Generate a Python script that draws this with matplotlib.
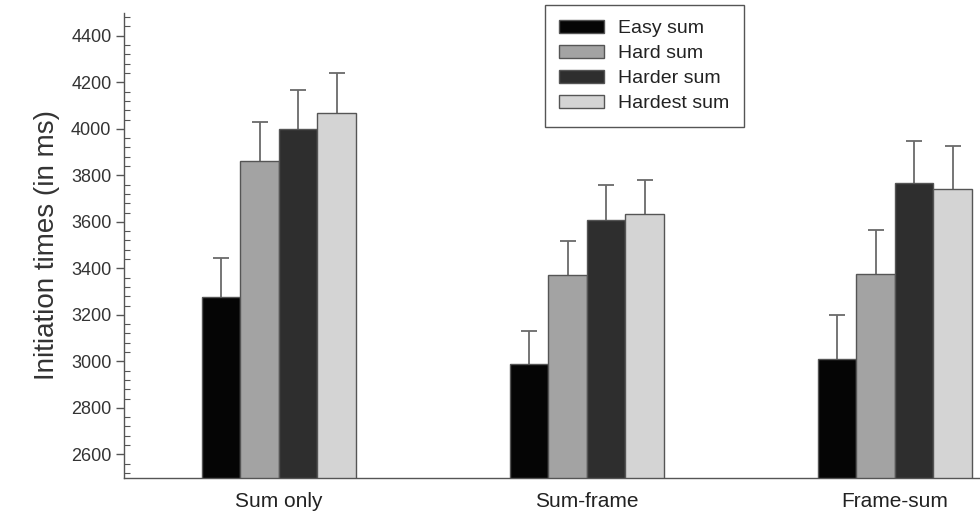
import matplotlib
matplotlib.use("Agg")
import matplotlib.pyplot as plt
import numpy as np
from matplotlib.ticker import MultipleLocator

plt.rcParams["font.family"] = ["Liberation Sans", "DejaVu Sans"]

# data
conditions = ["Sum only", "Sum-frame", "Frame-sum"]
series = ["Easy sum", "Hard sum", "Harder sum", "Hardest sum"]
easy = [3277, 2987, 3012]
hard = [3863, 3370, 3374]
harder = [4000, 3609, 3766]
hardest = [4068, 3635, 3742]
easy_err = [167, 144, 186]
hard_err = [168, 147, 189]
harder_err = [168, 151, 183]
hardest_err = [170, 143, 186]

means = [easy, hard, harder, hardest]
errors = [easy_err, hard_err, harder_err, hardest_err]
colors = ["#050505", "#a3a3a3", "#2e2e2e", "#d4d4d4"]

fig = plt.figure(figsize=(9.8, 5.22), dpi=100)
ax = fig.add_axes([0.1265, 0.085, 0.8735, 0.891])

x = np.arange(len(conditions))
width = 0.125
for i, (vals, errs) in enumerate(zip(means, errors)):
    pos = x + (i - 1.5) * width
    ax.bar(pos, vals, width, color=colors[i], edgecolor="#555555",
           linewidth=1.0, label=series[i], zorder=2)
    eb = ax.errorbar(pos, vals, yerr=[np.zeros(len(errs)), errs], fmt="none",
                     ecolor="#6a6a6a", elinewidth=1.3, capsize=6,
                     capthick=1.3, zorder=1)
    # only the upper cap is shown
    eb[1][0].set_visible(False)

ax.set_xlim(-0.503, 2.276)
ax.set_ylim(2500, 4500)
ax.yaxis.set_minor_locator(MultipleLocator(40))
ax.set_yticks(np.arange(2600, 4401, 200))

ax.set_xticks(x)
ax.set_xticklabels(conditions, fontsize=15, color="#222222")
ax.tick_params(axis="x", length=0, pad=10)
ax.tick_params(axis="y", which="major", direction="out", length=6,
               width=1.0, color="#555555", labelsize=13,
               labelcolor="#333333", pad=3)
ax.tick_params(axis="y", which="minor", direction="in", length=4,
               width=0.8, color="#555555")

for side in ["top", "right"]:
    ax.spines[side].set_visible(False)
for side in ["left", "bottom"]:
    ax.spines[side].set_color("#555555")
    ax.spines[side].set_linewidth(1.0)

ax.set_ylabel("Initiation times (in ms)", fontsize=20, color="#333333",
              labelpad=8)

leg = ax.legend(loc="upper left", bbox_to_anchor=(0.556, 0.99),
                bbox_transform=fig.transFigure, borderaxespad=0,
                fontsize=14, handlelength=2.3, handleheight=0.7,
                handletextpad=0.7, labelspacing=0.38, borderpad=0.75,
                fancybox=False, framealpha=1)
leg.get_frame().set_edgecolor("#555555")
leg.get_frame().set_linewidth(1.0)
for t in leg.get_texts():
    t.set_color("#222222")

fig.savefig("out.png", dpi=100)
